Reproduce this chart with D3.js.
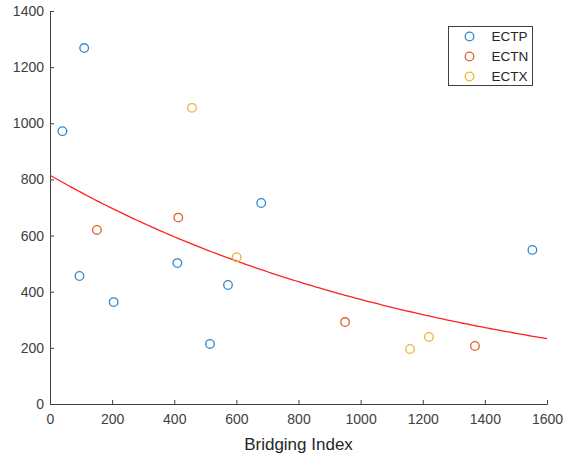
<!DOCTYPE html>
<html>
<head>
<meta charset="utf-8">
<script src="https://cdn.jsdelivr.net/npm/d3@7"></script>
<style>
  html, body { margin: 0; padding: 0; background: #fff; }
  svg { display: block; font-family: "Liberation Sans", Arial, Helvetica, sans-serif; }
</style>
</head>
<body>
<svg id="chart" width="572" height="457"></svg>
<script>
// Bridging index vs. value for three groups
const ectpX = [40, 110, 95, 205, 410, 515, 573, 680, 1553];
const ectpY = [972, 1268, 456, 363, 502, 214, 424, 716, 549];
const ectnX = [151, 413, 950, 1368];
const ectnY = [620, 664, 292, 207];
const ectxX = [457, 601, 1159, 1220];
const ectxY = [1055, 523, 196, 239];

const seriesNames = ["ECTP", "ECTN", "ECTX"];
const seriesColors = ["#2f87cf", "#de5f2c", "#efb42e"];

// Exponential trend y = a * exp(b * x)
const fitA = 815;
const fitB = -7.83e-4;
const fitXs = d3.range(0, 1601, 10);

const xTicks = [0, 200, 400, 600, 800, 1000, 1200, 1400, 1600];
const yTicks = [0, 200, 400, 600, 800, 1000, 1200, 1400];

const svg = d3.select("#chart");
const m = { left: 50, top: 11, right: 25, bottom: 53 };
const W = 572 - m.left - m.right;
const H = 457 - m.top - m.bottom;

const x = d3.scaleLinear().domain([0, 1600]).range([0, W]);
const y = d3.scaleLinear().domain([0, 1400]).range([H, 0]);

const g = svg.append("g").attr("transform", `translate(${m.left},${m.top})`);

const axisColor = "#404040";

const gx = g.append("g")
  .attr("transform", `translate(0,${H})`)
  .call(d3.axisBottom(x).tickValues(xTicks).tickSize(-4).tickPadding(10).tickFormat(d3.format("d")));
const gy = g.append("g")
  .call(d3.axisLeft(y).tickValues(yTicks).tickSize(-4).tickPadding(6).tickFormat(d3.format("d")));

[gx, gy].forEach(a => {
  a.select(".domain").attr("stroke", axisColor).attr("stroke-width", 1);
  a.selectAll(".tick line").attr("stroke", axisColor);
  a.selectAll(".tick text").attr("fill", axisColor).style("font-size", "14px");
});

g.append("text")
  .attr("x", W / 2)
  .attr("y", H + 46)
  .attr("text-anchor", "middle")
  .attr("fill", "#262626")
  .style("font-size", "17px")
  .text("Bridging Index");

// Trend curve
const line = d3.line().x(d => x(d)).y(d => y(fitA * Math.exp(fitB * d)));
g.append("path")
  .datum(fitXs)
  .attr("fill", "none")
  .attr("stroke", "#ff2020")
  .attr("stroke-width", 1.3)
  .attr("d", line);

// Scatter markers
const groups = [
  { xs: ectpX, ys: ectpY },
  { xs: ectnX, ys: ectnY },
  { xs: ectxX, ys: ectxY }
];
groups.forEach((s, i) => {
  g.append("g").selectAll("circle")
    .data(s.xs.map((v, k) => [v, s.ys[k]]))
    .join("circle")
    .attr("cx", d => x(d[0]))
    .attr("cy", d => y(d[1]))
    .attr("r", 4.3)
    .attr("fill", "none")
    .attr("stroke", seriesColors[i])
    .attr("stroke-width", 1.3);
});

// Legend
const lg = svg.append("g").attr("transform", "translate(448.5,26.5)");
lg.append("rect")
  .attr("width", 84).attr("height", 59)
  .attr("fill", "#fff").attr("stroke", "#404040").attr("stroke-width", 1);
seriesNames.forEach((name, i) => {
  const row = lg.append("g").attr("transform", `translate(0,${10 + i * 20})`);
  row.append("circle")
    .attr("cx", 21).attr("cy", 0).attr("r", 4.3)
    .attr("fill", "none").attr("stroke", seriesColors[i]).attr("stroke-width", 1.3);
  row.append("text")
    .attr("x", 43).attr("y", 0).attr("dy", "0.35em")
    .attr("fill", "#262626")
    .style("font-size", "13.5px")
    .text(name);
});
</script>
</body>
</html>
